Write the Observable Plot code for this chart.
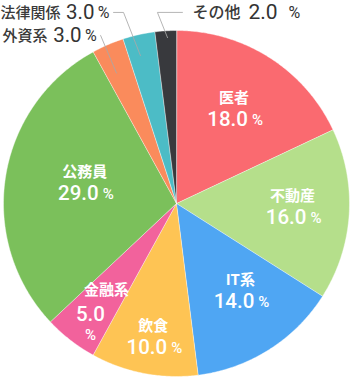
<!DOCTYPE html>
<html><head><meta charset="utf-8">
<script src="https://cdn.jsdelivr.net/npm/d3@7"></script>
<script src="https://cdn.jsdelivr.net/npm/@observablehq/plot@0.6"></script>
<style>html,body{margin:0;padding:0;background:#fff;overflow:hidden}</style>
</head><body><div id="chart"></div>
<script>
// ---- data ----
const categories = ["医者","不動産","IT系","飲食","金融系","公務員","外資系","法律関係","その他"];
const shares = [18, 16, 14, 10, 5, 29, 3, 3, 2];
const colors = ["#fa6a70","#b5df8b","#4fa6f3","#fec454","#f2629c","#7bc05b","#fa8b5c","#4cbcc6","#38393d"];

// ---- layout ----
const W = 352, H = 378, cx = 176, cy = 203, R = 173;
const innerLabelLayout = {
  "医者":   {angle: 31,    r: 0.645},
  "不動産": {angle: 91,    r: 0.67},
  "IT系":   {angle: 143.5, r: 0.62},
  "飲食":   {angle: 190,   r: 0.775},
  "金融系": {angle: 218.8, r: 0.794, stacked: true},
  "公務員": {angle: 283,   r: 0.545}
};
const outerLabelLayout = {
  "外資系":   {innerAngle: -24.7, innerR: 0.83, elbowAngle: -24.3, elbowR: 1.066, run: 0,  side: -1},
  "法律関係": {innerAngle: -13.7, innerR: 0.88, elbowAngle: -15.5, elbowR: 1.146, run: 10, side: -1},
  "その他":   {innerAngle: -3.1,  innerR: 0.96, elbowAngle: -5.7,  elbowR: 1.11,  run: 25, side: 1}
};

const rows = categories.map((c, i) => ({category: c, value: shares[i]}));
const arcs = d3.pie().sort(null).value(d => d.value)(rows);
const polar = (deg, r) => { const a = deg * Math.PI / 180; return {x: r * Math.sin(a), y: r * Math.cos(a)}; };

// slice polygons from the pie angles
const slicePoints = [];
for (const a of arcs) {
  const c = a.data.category;
  slicePoints.push({category: c, x: 0, y: 0});
  const n = Math.max(2, Math.ceil((a.endAngle - a.startAngle) / (Math.PI / 360)));
  for (let k = 0; k <= n; k++) {
    const t = a.startAngle + (a.endAngle - a.startAngle) * k / n;
    slicePoints.push({category: c, x: Math.sin(t), y: Math.cos(t)});
  }
}

// inner labels
const inner = arcs.filter(a => innerLabelLayout[a.data.category]).map(a => {
  const L = innerLabelLayout[a.data.category];
  const p = polar(L.angle, L.r);
  return {...p, category: a.data.category, num: a.data.value.toFixed(1), stacked: !!L.stacked};
});
const innerFlat = inner.filter(d => !d.stacked);
const innerStacked = inner.filter(d => d.stacked);

// outer labels & leaders
const outer = arcs.filter(a => outerLabelLayout[a.data.category]).map(a => {
  const L = outerLabelLayout[a.data.category];
  const pi = polar(L.innerAngle, L.innerR);
  const pe = polar(L.elbowAngle, L.elbowR);
  const end = {x: pe.x + L.side * L.run / R, y: pe.y};
  return {category: a.data.category, num: a.data.value.toFixed(1), side: L.side, pi, pe, end};
});
const leaderPoints = outer.flatMap(o => [
  {category: o.category, ...o.pi}, {category: o.category, ...o.pe}, {category: o.category, ...o.end}
]);
const outerLeft = outer.filter(o => o.side < 0).map(o => ({...o, x: o.end.x, y: o.end.y}));
const outerRight = outer.filter(o => o.side > 0).map(o => ({...o, x: o.end.x, y: o.end.y}));

const cjk = "'Noto Sans CJK JP', 'Noto Sans', sans-serif";
const num = "Roboto, 'Noto Sans', sans-serif";

const chart = Plot.plot({
  width: W, height: H,
  margin: 0,
  style: {background: "#fff", overflow: "visible"},
  x: {domain: [-cx / R, (W - cx) / R], range: [0, W], axis: null},
  y: {domain: [-(H - cy) / R, cy / R], range: [H, 0], axis: null},
  color: {type: "ordinal", domain: categories, range: colors},
  marks: [
    Plot.line(slicePoints, {x: "x", y: "y", z: "category", fill: "category", stroke: "#ffffff", strokeWidth: 0.6, strokeOpacity: 0.7, curve: "linear-closed"}),
    Plot.line(leaderPoints, {x: "x", y: "y", z: "category", stroke: "#a8a8a8", strokeWidth: 1, strokeOpacity: 0.85}),
    // inner labels (name / number / %)
    Plot.text(innerFlat, {x: "x", y: "y", text: "category", dy: -5, lineAnchor: "bottom", fill: "#fff", fontSize: 15, fontWeight: 700, fontFamily: cjk}),
    Plot.text(innerFlat, {x: "x", y: "y", text: "num", dy: 18, dx: 14, textAnchor: "end", lineAnchor: "bottom", fill: "#fff", fontSize: 20.5, fontWeight: 500, fontFamily: num}),
    Plot.text(innerFlat, {x: "x", y: "y", text: () => "%", dy: 17, dx: 18, textAnchor: "start", lineAnchor: "bottom", fill: "#fff", fontSize: 15, fontWeight: 500, fontFamily: num}),
    Plot.text(innerStacked, {x: "x", y: "y", text: "category", dx: 16, dy: -16, lineAnchor: "bottom", fill: "#fff", fontSize: 15, fontWeight: 700, fontFamily: cjk}),
    Plot.text(innerStacked, {x: "x", y: "y", text: "num", dy: 10, lineAnchor: "bottom", fill: "#fff", fontSize: 20.5, fontWeight: 500, fontFamily: num}),
    Plot.text(innerStacked, {x: "x", y: "y", text: () => "%", dy: 29, lineAnchor: "bottom", fill: "#fff", fontSize: 15, fontWeight: 500, fontFamily: num}),
    // outer labels, left side
    Plot.text(outerLeft, {x: "x", y: "y", text: "category", dx: -53, dy: 6, textAnchor: "end", lineAnchor: "bottom", fill: "#3a3a3a", fontSize: 15, fontWeight: 500, fontFamily: cjk}),
    Plot.text(outerLeft, {x: "x", y: "y", text: "num", dx: -19, dy: 7, textAnchor: "end", lineAnchor: "bottom", fill: "#333", fontSize: 20.5, fontWeight: 400, fontFamily: num}),
    Plot.text(outerLeft, {x: "x", y: "y", text: () => "%", dx: -4, dy: 6, textAnchor: "end", lineAnchor: "bottom", fill: "#333", fontSize: 16, fontWeight: 400, fontFamily: num}),
    // outer labels, right side
    Plot.text(outerRight, {x: "x", y: "y", text: "category", dx: 10, dy: 6, textAnchor: "start", lineAnchor: "bottom", fill: "#3a3a3a", fontSize: 16, fontWeight: 500, fontFamily: cjk}),
    Plot.text(outerRight, {x: "x", y: "y", text: "num", dx: 66, dy: 7, textAnchor: "start", lineAnchor: "bottom", fill: "#333", fontSize: 21, fontWeight: 400, fontFamily: num}),
    Plot.text(outerRight, {x: "x", y: "y", text: () => "%", dx: 106, dy: 6, textAnchor: "start", lineAnchor: "bottom", fill: "#333", fontSize: 16, fontWeight: 400, fontFamily: num})
  ]
});
document.getElementById("chart").appendChild(chart);
</script>
</body></html>
